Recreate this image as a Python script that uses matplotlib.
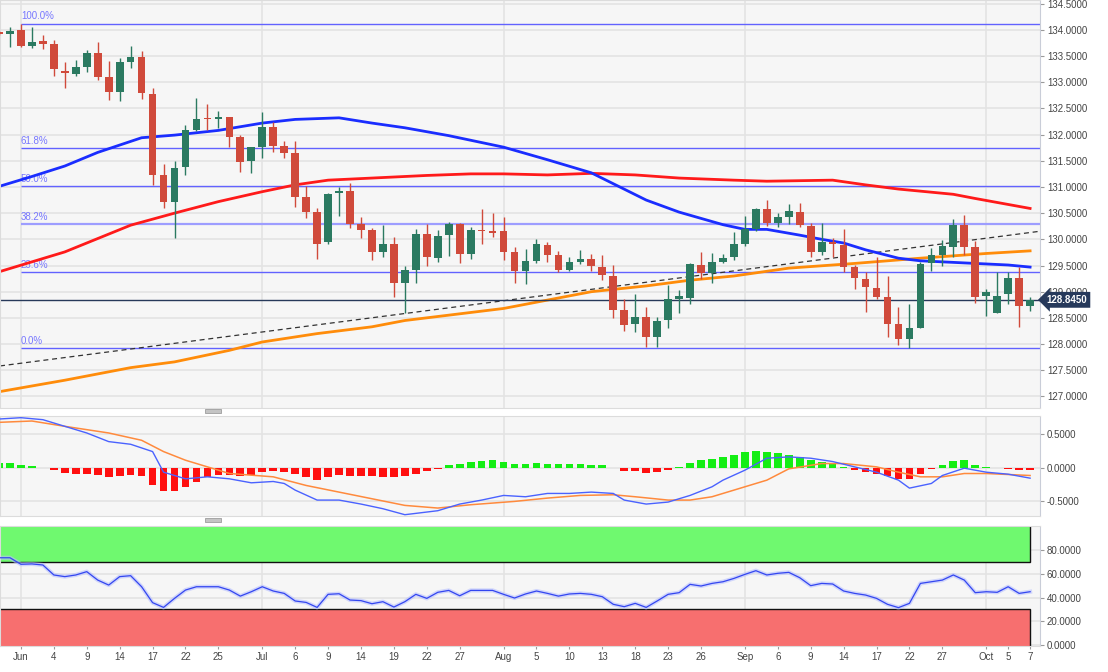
import numpy as np
import pandas as pd
import matplotlib
matplotlib.use('Agg')
import matplotlib.pyplot as plt
import matplotlib.patches as mpatches
import matplotlib.transforms as mtrans

plt.rcParams['font.family'] = ['Liberation Sans', 'DejaVu Sans']

# Trading days shown on the chart
days = pd.bdate_range('2021-05-28', '2021-10-07')

# Daily candles (open, high, low, close)
opens = [133.95, 133.92, 133.99, 133.69, 133.78, 133.73, 133.22, 133.16, 133.30, 133.55,
         133.10, 132.82, 133.39, 133.49, 132.77, 131.23, 130.71, 131.38, 132.09, 132.30,
         132.29, 132.33, 131.96, 131.50, 131.76, 132.15, 131.79, 131.64, 130.81, 130.52,
         129.94, 130.88, 130.93, 130.29, 130.18, 129.76, 129.92, 129.17, 129.41, 130.10,
         129.64, 130.08, 130.29, 129.72, 130.18, 130.16, 130.15, 129.75, 129.39, 129.59,
         129.90, 129.70, 129.41, 129.57, 129.62, 129.48, 129.30, 128.66, 128.38, 128.52,
         128.13, 128.46, 128.86, 128.88, 129.51, 129.36, 129.57, 129.66, 129.92, 130.19,
         130.57, 130.31, 130.42, 130.53, 130.25, 129.76, 129.94, 129.89, 129.47, 129.24,
         129.08, 128.90, 128.38, 128.09, 128.31, 129.54, 129.71, 129.86, 130.27, 129.86,
         128.92, 128.60, 128.96, 129.27, 128.73]
highs = [133.97, 134.06, 134.12, 134.06, 133.90, 133.80, 133.38, 133.43, 133.62, 133.76,
         133.41, 133.46, 133.69, 133.59, 132.89, 131.43, 131.50, 132.18, 132.69, 132.58,
         132.45, 132.34, 131.99, 131.77, 132.44, 132.24, 131.87, 131.87, 131.01, 130.59,
         130.88, 130.99, 131.08, 130.43, 130.21, 130.27, 130.04, 129.49, 130.20, 130.29,
         130.18, 130.34, 130.31, 130.24, 130.57, 130.50, 130.42, 129.86, 129.81, 130.00,
         129.95, 129.78, 129.67, 129.80, 129.72, 129.70, 129.51, 128.87, 128.96, 128.71,
         128.52, 129.13, 129.03, 129.55, 129.76, 129.74, 129.72, 130.14, 130.45, 130.59,
         130.75, 130.50, 130.67, 130.69, 130.31, 130.31, 130.02, 130.19, 129.51, 129.38,
         129.67, 129.30, 128.70, 128.76, 129.57, 129.83, 129.99, 130.38, 130.46, 129.97,
         129.05, 129.38, 129.38, 129.48, 128.90]
lows = [133.91, 133.68, 133.67, 133.65, 133.63, 133.12, 132.89, 133.12, 133.20, 133.04,
        132.66, 132.65, 133.27, 132.68, 131.04, 130.59, 130.03, 131.22, 132.07, 132.09,
        132.12, 131.77, 131.28, 131.27, 131.56, 131.67, 131.55, 130.61, 130.40, 129.62,
        129.91, 130.45, 130.21, 130.02, 129.60, 129.66, 128.89, 128.60, 129.16, 129.49,
        129.57, 129.68, 129.54, 129.62, 129.91, 130.04, 129.60, 129.17, 129.15, 129.55,
        129.57, 129.38, 129.39, 129.53, 129.40, 129.22, 128.49, 128.25, 128.23, 127.95,
        127.94, 128.30, 128.60, 128.76, 129.24, 129.16, 129.54, 129.60, 129.87, 130.16,
        130.25, 130.24, 130.29, 130.24, 129.67, 129.71, 129.67, 129.38, 129.05, 128.62,
        128.87, 128.14, 127.98, 127.92, 128.30, 129.39, 129.49, 129.66, 129.70, 128.78,
        128.53, 128.59, 128.76, 128.33, 128.64]
closes = [133.93, 133.98, 133.69, 133.77, 133.73, 133.25, 133.17, 133.29, 133.55, 133.10,
          132.82, 133.38, 133.49, 132.79, 131.23, 130.71, 131.37, 132.09, 132.30, 132.29,
          132.33, 131.96, 131.48, 131.76, 132.15, 131.79, 131.64, 130.81, 130.53, 129.92,
          130.87, 130.93, 130.29, 130.18, 129.76, 129.92, 129.17, 129.41, 130.10, 129.66,
          130.07, 130.29, 129.72, 130.18, 130.16, 130.13, 129.76, 129.39, 129.59, 129.91,
          129.71, 129.41, 129.57, 129.62, 129.49, 129.32, 128.66, 128.36, 128.52, 128.13,
          128.44, 128.86, 128.92, 129.52, 129.36, 129.56, 129.65, 129.92, 130.19, 130.57,
          130.31, 130.42, 130.55, 130.27, 129.76, 129.94, 129.92, 129.48, 129.26, 129.09,
          128.89, 128.38, 128.09, 128.31, 129.53, 129.71, 129.87, 130.27, 129.86, 128.90,
          129.00, 128.92, 129.27, 128.73, 128.845]

# Moving averages read at sample days
blue_ma_days = ['05-28', '06-02', '06-07', '06-10', '06-16', '06-21', '06-25', '07-01', '07-06',
                '07-12', '07-15', '07-20', '07-26', '08-02', '08-06', '08-12', '08-19', '08-24',
                '08-30', '09-01', '09-03', '09-08', '09-10', '09-14', '09-16', '09-21', '09-23',
                '09-29', '10-05', '10-07']
blue_ma = [131.01, 131.20, 131.40, 131.66, 131.94, 131.99, 132.08, 132.22, 132.29,
           132.32, 132.22, 132.13, 131.98, 131.76, 131.52, 131.27, 130.75, 130.52,
           130.28, 130.19, 130.19, 130.08, 130.00, 129.93, 129.80, 129.64, 129.59,
           129.55, 129.51, 129.47]
red_ma_days = ['05-28', '06-07', '06-15', '06-21', '06-25', '07-01', '07-06', '07-09', '07-15',
               '07-22', '07-28', '08-02', '08-06', '08-12', '08-18', '08-24', '08-31', '09-03',
               '09-13', '09-16', '09-21', '09-28', '09-30', '10-07']
red_ma = [129.38, 129.76, 130.27, 130.50, 130.72, 130.91, 131.04, 131.13, 131.17,
          131.22, 131.25, 131.25, 131.23, 131.26, 131.23, 131.17, 131.13, 131.11,
          131.13, 131.04, 130.96, 130.86, 130.78, 130.59]
orange_ma_days = ['05-28', '06-07', '06-15', '06-21', '06-28', '07-01', '07-08', '07-15', '07-20',
                  '08-02', '08-06', '08-12', '08-19', '08-25', '08-31', '09-07', '09-15', '09-23',
                  '10-01', '10-07']
orange_ma = [127.09, 127.31, 127.55, 127.66, 127.88, 128.04, 128.20, 128.33, 128.45,
             128.68, 128.84, 129.00, 129.11, 129.22, 129.30, 129.45, 129.54, 129.64,
             129.73, 129.78]

# Rising trend line anchors
trend_days = ['05-28', '10-07']
trend_vals = [127.58, 130.13]

# Fibonacci retracement of the Jun 1 high / Aug 20 low swing
fib_start = '06-01'
fib_high = 134.12
fib_low = 127.92
fib_ratios = [1.0, 0.618, 0.5, 0.382, 0.236, 0.0]

# MACD histogram (one bar per day)
macd_hist = [0.07, 0.07, 0.045, 0.025, 0.0, -0.04, -0.08, -0.09, -0.09, -0.115,
             -0.14, -0.13, -0.115, -0.13, -0.26, -0.35, -0.35, -0.29, -0.22, -0.14,
             -0.115, -0.115, -0.13, -0.115, -0.065, -0.055, -0.065, -0.09, -0.14, -0.19,
             -0.14, -0.115, -0.125, -0.125, -0.13, -0.14, -0.14, -0.13, -0.09, -0.055,
             -0.015, 0.035, 0.05, 0.085, 0.10, 0.11, 0.085, 0.05, 0.05, 0.065,
             0.06, 0.05, 0.05, 0.05, 0.045, 0.035, -0.01, -0.05, -0.05, -0.08,
             -0.065, -0.03, 0.01, 0.07, 0.11, 0.135, 0.16, 0.195, 0.235, 0.245,
             0.235, 0.22, 0.185, 0.16, 0.11, 0.085, 0.06, 0.01, -0.04, -0.065,
             -0.10, -0.13, -0.175, -0.175, -0.09, -0.015, 0.045, 0.095, 0.11, 0.045,
             0.005, -0.01, -0.015, -0.03, -0.035]
macd_days = ['05-28', '06-01', '06-03', '06-07', '06-09', '06-11', '06-15', '06-17', '06-18',
             '06-22', '06-24', '06-28', '06-30', '07-02', '07-05', '07-06', '07-08', '07-12',
             '07-14', '07-16', '07-20', '07-22', '07-23', '07-27', '07-29', '08-02', '08-04',
             '08-06', '08-10', '08-12', '08-16', '08-17', '08-19', '08-23', '08-25', '08-27',
             '08-30', '09-01', '09-03', '09-07', '09-09', '09-13', '09-15', '09-17', '09-21',
             '09-22', '09-24', '09-27', '09-29', '10-01', '10-05', '10-07']
macd_line = [0.73, 0.75, 0.72, 0.62, 0.52, 0.39, 0.35, 0.24, -0.07,
             -0.17, -0.14, -0.17, -0.23, -0.21, -0.24, -0.34, -0.49, -0.49,
             -0.55, -0.62, -0.71, -0.67, -0.65, -0.55, -0.49, -0.42, -0.44,
             -0.39, -0.39, -0.37, -0.39, -0.49, -0.55, -0.52, -0.42, -0.29,
             -0.19, -0.04, 0.14, 0.16, 0.14, 0.09, 0.01, -0.07, -0.19,
             -0.31, -0.24, -0.12, -0.01, -0.07, -0.10, -0.16]
signal_days = ['05-28', '06-02', '06-07', '06-11', '06-16', '06-18', '06-22', '06-24', '06-28',
               '07-02', '07-07', '07-12', '07-15', '07-20', '07-23', '07-28', '08-03', '08-06',
               '08-11', '08-16', '08-18', '08-23', '08-25', '08-27', '08-31', '09-03', '09-07',
               '09-10', '09-14', '09-17', '09-21', '09-23', '09-27', '09-29', '10-01', '10-07']
signal_line = [0.68, 0.70, 0.62, 0.52, 0.41, 0.24, 0.11, 0.01, -0.09,
               -0.14, -0.27, -0.37, -0.47, -0.57, -0.61, -0.56, -0.51, -0.46,
               -0.42, -0.41, -0.44, -0.49, -0.49, -0.44, -0.34, -0.19, -0.02,
               0.06, 0.06, 0.01, -0.07, -0.14, -0.14, -0.09, -0.09, -0.12]

# RSI (one value per day)
rsi = [73.5, 73.5, 68.0, 68.3, 67.4, 59.0, 57.6, 59.0, 61.8, 54.7,
       50.5, 57.6, 58.4, 49.1, 35.7, 31.7, 39.3, 46.3, 49.1, 49.1,
       49.1, 46.3, 41.2, 44.9, 49.1, 45.5, 43.5, 37.1, 35.9, 31.7,
       42.7, 43.2, 37.9, 37.4, 34.8, 36.5, 32.0, 36.5, 42.7, 39.3,
       44.4, 46.0, 41.5, 46.0, 46.0, 46.0, 42.7, 39.6, 43.0, 45.5,
       43.5, 41.2, 43.0, 43.5, 42.7, 40.7, 34.3, 32.3, 35.1, 31.7,
       37.1, 42.7, 44.1, 51.1, 49.7, 51.9, 53.3, 56.1, 59.5, 62.6,
       59.0, 60.4, 61.2, 56.7, 50.0, 51.9, 51.4, 45.5, 43.5, 42.1,
       39.3, 34.3, 31.5, 35.1, 51.9, 53.3, 54.7, 59.0, 54.7, 44.1,
       44.9, 44.4, 49.1, 43.5, 44.9]

# X axis labels
tick_days = ['06-01', '06-04', '06-09', '06-14', '06-17', '06-22', '06-25', '07-01', '07-06',
             '07-09', '07-14', '07-19', '07-22', '07-27', '08-02', '08-05', '08-10', '08-13',
             '08-18', '08-23', '08-26', '09-01', '09-06', '09-09', '09-14', '09-17', '09-22',
             '09-27', '10-01', '10-05', '10-07']
tick_labels = ['Jun', '4', '9', '14', '17', '22', '25', 'Jul', '6', '9', '14', '19', '22', '27',
               'Aug', '5', '10', '13', '18', '23', '26', 'Sep', '6', '9', '14', '17', '22', '27',
               'Oct', '5', '7']
month_days = ['06-01', '07-01', '08-02', '09-01', '10-01']


def pos(md):
    return days.get_indexer(pd.to_datetime(['2021-' + d for d in md]))


x = np.arange(len(days))
GREEN = '#2b7a61'
RED = '#d04a3b'
GRID = '#e3e3e3'
BG = '#f6f6f6'

fig = plt.figure(figsize=(11.08, 6.72), dpi=100)
ax = fig.add_axes([0, 0.3929, 0.9386, 0.6071])
ax_macd = fig.add_axes([0, 0.2321, 0.9386, 0.1493], sharex=ax)
ax_rsi = fig.add_axes([0, 0.0394, 0.9386, 0.1778], sharex=ax)

for a in (ax, ax_macd, ax_rsi):
    a.set_facecolor(BG)
    a.yaxis.tick_right()
    a.tick_params(axis='y', length=3, color='#9a9a9a', labelsize=7, labelcolor='#444444', pad=2)
    a.tick_params(axis='x', length=0, labelbottom=False)
    for s in a.spines.values():
        s.set_color('#dcdcdc')
        s.set_linewidth(0.8)
    a.spines['right'].set_color('#c9cdd8')
    a.grid(axis='y', color=GRID, lw=1.2)
    a.set_axisbelow(True)
    for m in pos(month_days):
        a.axvline(m, color=GRID, lw=1.2, zorder=0)

ax.set_xlim(0.09, 94.9)

# ---- main price panel ----
ax.set_ylim(126.78, 134.57)
ax.set_yticks(np.arange(127.0, 134.51, 0.5))
ax.yaxis.set_major_formatter(plt.FuncFormatter(lambda v, p: f'{v:.4f}'))

# Fibonacci levels
fx = pos([fib_start])[0]
for r in fib_ratios:
    lvl = fib_low + (fib_high - fib_low) * r
    light = r in (0.382,)
    ax.hlines(lvl, fx, 94.9, color='#9d9dff' if light else '#6262ff',
              lw=1.6 if light else 1.0, zorder=1)
    ax.text(fx, lvl + 0.04, f'{r * 100:.1f}%', fontsize=7, color='#7777ff',
            va='bottom', ha='left', zorder=1)

# trend line and moving averages
ax.axline((pos(trend_days)[0], trend_vals[0]), (pos(trend_days)[1], trend_vals[1]),
          color='#333333', lw=0.9, dashes=(4, 3), zorder=2)
ax.plot(pos(orange_ma_days), orange_ma, color='#ff8c0a', lw=2, zorder=2)
ax.plot(pos(red_ma_days), red_ma, color='#ff1a1a', lw=2, zorder=2)
ax.plot(pos(blue_ma_days), blue_ma, color='#1a2dff', lw=2, zorder=2)

# candles
o, h, l, c = map(np.array, (opens, highs, lows, closes))
up = c >= o
cols = np.where(up, GREEN, RED)
ax.vlines(x, l, h, colors=cols, lw=1, zorder=3)
body = np.maximum(np.abs(c - o), 0.025)
ax.bar(x, body, bottom=np.minimum(o, c), width=0.7, color=cols, zorder=4)

# last price marker
last = closes[-1]
ax.axhline(last, color='#27395a', lw=1, zorder=2)
tr = mtrans.blended_transform_factory(ax.transAxes, ax.transData)
ax.text(1.0065, last, f'{last:.4f}', transform=tr, fontsize=7, fontweight='bold',
        color='white', va='center', ha='left', clip_on=False, zorder=10,
        bbox=dict(boxstyle='larrow,pad=0.3', fc='#26395b', ec='none'))

# ---- MACD panel ----
ax_macd.set_ylim(-0.73, 0.78)
ax_macd.set_yticks([-0.5, 0.0, 0.5])
ax_macd.yaxis.set_major_formatter(plt.FuncFormatter(lambda v, p: f'{v:.4f}'))
hist = np.array(macd_hist)
ax_macd.bar(x, hist, width=0.7, color=np.where(hist >= 0, '#14ee14', '#ff0f0f'), zorder=2)
ax_macd.plot(pos(signal_days), signal_line, color='#ff8a3d', lw=1.1, zorder=3)
ax_macd.plot(pos(macd_days), macd_line, color='#4a62ff', lw=1.0, zorder=3)

# ---- RSI panel ----
ax_rsi.set_ylim(-0.4, 100.2)
ax_rsi.set_yticks([0, 20, 40, 60, 80])
ax_rsi.yaxis.set_major_formatter(plt.FuncFormatter(lambda v, p: f'{v:.4f}'))
ax_rsi.add_patch(mpatches.Rectangle((-2, 70), x[-1] + 2, 32, fc='#6ff96f', ec='#111111',
                                    lw=1, zorder=1))
ax_rsi.add_patch(mpatches.Rectangle((-2, -2), x[-1] + 2, 32, fc='#f76f6f', ec='#111111',
                                    lw=1, zorder=1))
ax_rsi.plot(x, rsi, color='#b7c0ff', lw=3, alpha=0.6, zorder=2)
ax_rsi.plot(x, rsi, color='#3346f0', lw=0.9, zorder=3)
ax_rsi.set_xticks(pos(tick_days))
ax_rsi.set_xticklabels(tick_labels)
ax_rsi.tick_params(axis='x', labelbottom=True, length=2, color='#9a9a9a', labelsize=7,
                   labelcolor='#444444', pad=3)

# panel separators with drag handles
for yy in (410.5, 519.5):
    fig.patches.append(mpatches.Rectangle((205 / 1108, 1 - (yy + 2) / 672), 16 / 1108, 4 / 672,
                                          transform=fig.transFigure, fc='#c4c4c4',
                                          ec='#9d9d9d', lw=0.6))

fig.savefig('out.png', dpi=100, facecolor='white')
